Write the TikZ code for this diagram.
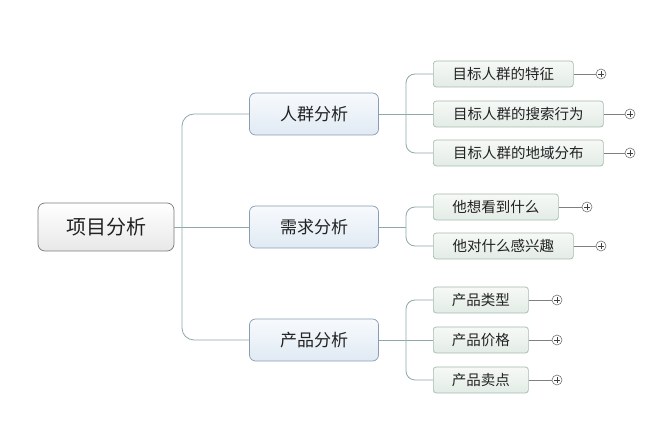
\documentclass[tikz,border=0pt]{standalone}
\usepackage{fontspec}
\setmainfont{Noto Sans CJK SC}
\usetikzlibrary{positioning}
\definecolor{linec}{HTML}{8FA8A8}
\definecolor{rootborder}{HTML}{7A7A7A}
\definecolor{bluebd}{HTML}{8A9CB0}
\definecolor{bluetop}{HTML}{F7FAFD}
\definecolor{bluebot}{HTML}{E0EAF3}
\definecolor{greenbd}{HTML}{A5BCAE}
\definecolor{greentop}{HTML}{F6F9F6}
\definecolor{greenbot}{HTML}{E3ECE6}
\definecolor{txt}{HTML}{222222}
\tikzset{
  x=1pt, y=-1pt,
  rootbox/.style={draw=rootborder, line width=0.7pt, rounded corners=7pt, top color=white, bottom color=black!9,
    minimum width=136pt, minimum height=48pt, inner sep=0pt, font=\fontsize{20}{23}\selectfont, text=txt},
  mainbox/.style={draw=bluebd, line width=0.7pt, rounded corners=6pt, top color=bluetop, bottom color=bluebot,
    minimum width=129pt, minimum height=42pt, inner sep=0pt, font=\fontsize{17}{20}\selectfont, text=txt},
  subbox/.style={draw=greenbd, line width=0.7pt, rounded corners=3pt, top color=greentop, bottom color=greenbot,
    minimum height=26pt, inner sep=0pt, font=\fontsize{14.5}{17}\selectfont, text=txt},
  conn/.style={draw=linec, line width=0.8pt, rounded corners=12pt},
  sconn/.style={draw=linec, line width=0.8pt, rounded corners=9pt},
  plusc/.style={circle, draw=black!55, line width=0.6pt, fill=white, minimum size=10pt, inner sep=0pt,
    path picture={\draw[black!75, line width=0.6pt] ([xshift=-2.6pt]path picture bounding box.center) -- ([xshift=2.6pt]path picture bounding box.center);
      \draw[black!75, line width=0.6pt] ([yshift=-2.6pt]path picture bounding box.center) -- ([yshift=2.6pt]path picture bounding box.center);}},
  pline/.style={draw=black!50, line width=0.6pt}
}
\begin{document}
\begin{tikzpicture}
\useasboundingbox (0,0) rectangle (670,427);
\fill[white] (0,0) rectangle (670,427);

\node[rootbox] (root) at (106,227) {项目分析};
\node[mainbox] (m1) at (314,114) {人群分析};
\node[mainbox] (m2) at (314,227) {需求分析};
\node[mainbox] (m3) at (314,340) {产品分析};

\coordinate (j0) at (182,227);
\draw[conn] (root.east) -- (m2.west);
\draw[conn] (m1.west) -| (j0) |- (m3.west);

% subnodes
\node[subbox, minimum width=140pt, anchor=west] (a1) at (433,74) {目标人群的特征};
\node[subbox, minimum width=170pt, anchor=west] (a2) at (433,114) {目标人群的搜索行为};
\node[subbox, minimum width=170pt, anchor=west] (a3) at (433,153) {目标人群的地域分布};
\node[subbox, minimum width=125pt, anchor=west] (b1) at (433,207) {他想看到什么};
\node[subbox, minimum width=140pt, anchor=west] (b2) at (433,246) {他对什么感兴趣};
\node[subbox, minimum width=95pt, anchor=west] (c1) at (433,300) {产品类型};
\node[subbox, minimum width=95pt, anchor=west] (c2) at (433,340) {产品价格};
\node[subbox, minimum width=95pt, anchor=west] (c3) at (433,380) {产品卖点};

\coordinate (ja) at (406,114);
\coordinate (jb) at (406,227);
\coordinate (jc) at (406,340);
\draw[sconn] (m1.east) -- (a2.west);
\draw[sconn] (a1.west) -| (ja) |- (a3.west);
\draw[sconn] (m2.east) -- (jb);
\draw[sconn] (b1.west) -| (jb) |- (b2.west);
\draw[sconn] (m3.east) -- (c2.west);
\draw[sconn] (c1.west) -| (jc) |- (c3.west);

% plus markers
\node[plusc] (pa1) at (601,74) {};
\node[plusc] (pa2) at (630,114) {};
\node[plusc] (pa3) at (630,153) {};
\node[plusc] (pb1) at (587,207) {};
\node[plusc] (pb2) at (601,246) {};
\node[plusc] (pc1) at (557,300) {};
\node[plusc] (pc2) at (557,340) {};
\node[plusc] (pc3) at (557,380) {};
\foreach \s/\p in {a1/pa1,a2/pa2,a3/pa3,b1/pb1,b2/pb2,c1/pc1,c2/pc2,c3/pc3}{
  \draw[pline] (\s.east) -- (\p.west);
}
\end{tikzpicture}
\end{document}
